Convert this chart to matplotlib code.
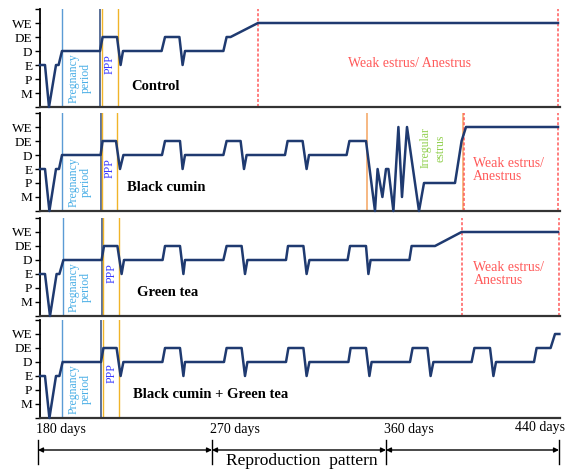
import matplotlib
matplotlib.use("Agg")
import matplotlib.pyplot as plt

plt.rcParams['font.family'] = ['Liberation Serif', 'DejaVu Serif']

# ---------------- data ----------------
level_labels = ['M', 'P', 'E', 'D', 'DE', 'WE']
level_values = [1, 2, 3, 4, 5, 6]

panel_titles = ['Control', 'Black cumin', 'Green tea', 'Black cumin + Green tea']

x_control = [180, 182.5, 184.5, 188, 189.3, 191, 210, 211.3, 218.5, 220.3, 221.5, 240.8,
             242.5, 249.7, 251.3, 252.5, 271.7, 273.3, 275.3, 289, 439]
y_control = [3, 3, 0, 3, 3, 4, 4, 5, 5, 3, 4, 4, 5, 5, 3, 4, 4, 5, 5, 6, 6]

x_cumin = [180, 182.5, 184.7, 188, 189.5, 191, 210.3, 211.3, 218, 220, 221.7, 241, 242.5,
           250, 251.3, 252.5, 271.7, 273.3, 280.3, 282, 283.3, 302.5, 303.8, 311.3, 313.3,
           314.5, 333.3, 334.7, 343, 347.5, 348.8, 351.2, 353, 354.2, 356.7, 359.2, 361,
           363.5, 369.5, 372, 387.5, 390.8, 393, 439]
y_cumin = [3, 3, 0, 3, 3, 4, 4, 5, 5, 3, 4, 4, 5, 5, 3, 4, 4, 5, 5, 3, 4, 4, 5, 5, 3,
           4, 4, 5, 5, 0, 3, 1, 3, 3, 0, 6, 1, 6, 0, 2, 2, 5, 6, 6]

x_tea = [180, 182.5, 185, 188.3, 189.7, 191.7, 210.8, 212, 218.7, 220.8, 222, 241.3, 242.5,
         250, 251.7, 252.5, 271.7, 273.3, 280.8, 282.5, 283.7, 303, 304, 311.7, 313.3,
         314.7, 333.8, 335, 343, 344.2, 345.3, 364.7, 365.8, 377.5, 390.8, 439]
y_tea = [3, 3, 0, 3, 3, 4, 4, 5, 5, 3, 4, 4, 5, 5, 3, 4, 4, 5, 5, 3, 4, 4, 5, 5, 3,
         4, 4, 5, 5, 3, 4, 4, 5, 5, 6, 6]

x_combo = [180, 182.5, 184.7, 188, 189.7, 191.3, 210.5, 211.7, 218.3, 220.3, 221.7, 241.2,
           242.5, 250, 251.7, 252.5, 272, 273.3, 280.8, 282.5, 283.7, 303, 304.2, 311.7,
           313.3, 314.7, 334.2, 335.3, 343, 344.7, 345.8, 365, 366.3, 373.7, 375.3, 376.7,
           395.8, 397.2, 405, 406.7, 408, 427, 428.3, 435.3, 437.5, 439.7]
y_combo = [3, 3, 0, 3, 3, 4, 4, 5, 5, 3, 4, 4, 5, 5, 3, 4, 4, 5, 5, 3, 4, 4, 5, 5, 3,
           4, 4, 5, 5, 3, 4, 4, 5, 5, 3, 4, 4, 5, 5, 3, 4, 4, 5, 5, 6, 6]

# marker lines (day positions on the schematic axis)
pregnancy_start = [191, 191, 191.7, 191]
pregnancy_end = [210, 210.3, 210.8, 210.5]
ppp_end = [219, 218.7, 219.5, 219.7]
irregular_bounds = [343.7, 391.3]          # Black cumin only
weak_start = [289, 392, 390.8, None]
weak_end = [439, 439, 439.5, None]

day_labels = ['180 days', '270 days', '360 days', '440 days']
axis_title = 'Reproduction  pattern'

# ---------------- layout ----------------
W, H = 570, 470
fig = plt.figure(figsize=(W / 100, H / 100), dpi=100)

ax_left_px, ax_right_px = 40, 560
bottoms_px = [107, 211, 316, 418]
height_px = 98

navy = '#1f3a70'
c_preg_line = '#5b9bd5'
c_dark = '#4d6490'
c_gold = '#f0b429'
c_orange = '#f4a460'
c_red = '#ff5a5a'
c_preg_text = '#49aee6'
c_ppp = '#3a3aff'
c_irr = '#92d050'

xs = [x_control, x_cumin, x_tea, x_combo]
ys = [y_control, y_cumin, y_tea, y_combo]

title_pos = [(225.5, 1.5), (223.5, 1.65), (228.3, 1.7), (226.7, 1.7)]
ppp_pos = [(215, 3.1), (215, 3.07), (215.8, 3.1), (215.8, 3.2)]

for i in range(4):
    b = bottoms_px[i]
    ax = fig.add_axes([ax_left_px / W, 1 - b / H, (ax_right_px - ax_left_px) / W, height_px / H])
    ax.set_xlim(180, 440)
    ax.set_ylim(0, 7)
    for s in ['top', 'right']:
        ax.spines[s].set_visible(False)
    ax.spines['left'].set_linewidth(1.3)
    ax.spines['left'].set_color('black')
    ax.spines['bottom'].set_linewidth(1.6)
    ax.spines['bottom'].set_color('#333333')
    ax.set_xticks([])
    ax.set_yticks(list(range(0, 8)))
    ax.set_yticklabels([''] + level_labels + [''], fontsize=9.5)
    ax.tick_params(axis='y', length=3.5, width=1, pad=2)

    # vertical markers
    ax.axvline(pregnancy_start[i], color=c_preg_line, lw=1.0, zorder=1)
    ax.axvline(pregnancy_end[i], color=c_dark, lw=1.3, zorder=1)
    ax.axvline(pregnancy_end[i] + 0.8, color=c_gold, lw=1.0, zorder=1)
    ax.axvline(ppp_end[i], color=c_gold, lw=1.0, zorder=1)
    if i == 1:
        for xb in irregular_bounds:
            ax.axvline(xb, color=c_orange, lw=1.1, zorder=1)
    if weak_start[i] is not None:
        ax.axvline(weak_start[i], color=c_red, lw=1.1, ls=(0, (2, 1.3)), zorder=1)
        ax.axvline(weak_end[i], color=c_red, lw=1.1, ls=(0, (2, 1.3)), zorder=1)

    ax.plot(xs[i], ys[i], color=navy, lw=1.8, solid_joinstyle='round', zorder=3, clip_on=False)

    # texts
    ax.text(200, 2.05, 'Pregnancy\nperiod', rotation=90, ha='center', va='center',
            color=c_preg_text, fontsize=8.5, multialignment='center', linespacing=1.05)
    ax.text(ppp_pos[i][0], ppp_pos[i][1], 'PPP', rotation=90, ha='center', va='center',
            color=c_ppp, fontsize=8.5)
    ax.text(title_pos[i][0], title_pos[i][1], panel_titles[i], ha='left', va='center',
            fontsize=10.5, fontweight='bold', color='black')

    if i == 0:
        ax.text(334, 3.1, 'Weak estrus/ Anestrus', ha='left', va='center', color=c_red, fontsize=10)
    elif i == 1:
        ax.text(396.3, 2.9, 'Weak estrus/\nAnestrus', ha='left', va='center', color=c_red,
                fontsize=10, linespacing=1.0)
        ax.text(376.5, 4.5, 'Irregular\nestrus', rotation=90, ha='center', va='center',
                color=c_irr, fontsize=8.5, multialignment='center', linespacing=1.4)
    elif i == 2:
        ax.text(396.7, 3.0, 'Weak estrus/\nAnestrus', ha='left', va='center', color=c_red,
                fontsize=10, linespacing=1.0)

# ---------------- bottom annotation ----------------
ann = fig.add_axes([0, 0, 1, 1], facecolor='none')
ann.set_xlim(0, W)
ann.set_ylim(H, 0)
ann.axis('off')

bar_px = [38, 212, 386, 559]
label_y = [430, 430, 430, 427]
for xp, lab, ly in zip(bar_px, day_labels, label_y):
    ann.plot([xp, xp], [440, 464], color='black', lw=1.0)
    ann.text(xp - 2 if xp != bar_px[-1] else xp + 6, ly, lab,
             ha='left' if xp != bar_px[-1] else 'right', va='center', fontsize=10)
for a, b in zip(bar_px[:-1], bar_px[1:]):
    ann.annotate('', xy=(a, 450), xytext=(b, 450),
                 arrowprops=dict(arrowstyle='<|-|>', color='black', lw=1.0,
                                 mutation_scale=7, shrinkA=0, shrinkB=0))
ann.text(302, 465, axis_title, ha='center', va='baseline', fontsize=12.5)

fig.savefig('out.png', dpi=100)
